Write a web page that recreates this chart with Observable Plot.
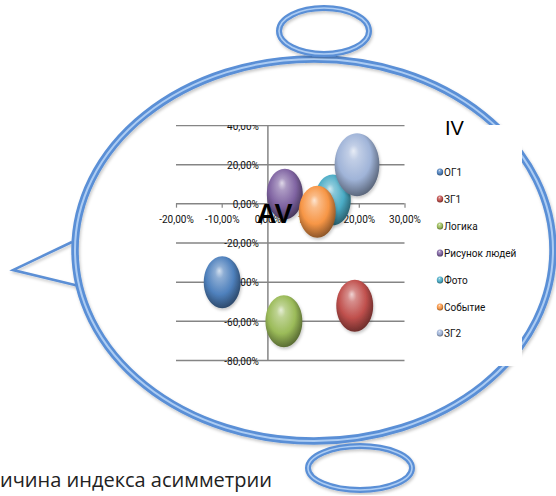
<!DOCTYPE html>
<html>
<head>
<meta charset="utf-8">
<script src="https://cdn.jsdelivr.net/npm/d3@7"></script>
<script src="https://cdn.jsdelivr.net/npm/@observablehq/plot@0.6"></script>
<style>
  html, body { margin: 0; padding: 0; background: #fff; }
  #wrap { position: relative; width: 556px; height: 496px; overflow: hidden; background: #fff; }
  #deco, #over { position: absolute; left: 0; top: 0; }
  #chart { position: absolute; left: 145px; top: 125px; }
  #over { pointer-events: none; }
</style>
</head>
<body>
<div id="wrap">
  <svg id="deco" width="556" height="496"></svg>
  <div id="chart"></div>
  <svg id="over" width="556" height="496"></svg>
</div>
<script>
// ---- data ----
const names = ["ОГ1", "ЗГ1", "Логика", "Рисунок людей", "Фото", "Событие", "ЗГ2"];
const xVals = [-0.10, 0.19, 0.035, 0.037, 0.142, 0.108, 0.195];
const yVals = [-0.40, -0.52, -0.60, 0.05, 0.02, -0.04, 0.20];
const sizes = [1, 1, 1, 0.95, 0.95, 1, 1.47];
const baseColors = ["#4f81bd", "#c0504d", "#9bbb59", "#8064a2", "#4bacc6", "#f79646", "#a0b4d8"];
const xTicks = [-0.2, -0.1, 0, 0.1, 0.2, 0.3];
const yTicks = [0.4, 0.2, 0, -0.2, -0.4, -0.6, -0.8];
const captionText = "ичина индекса асимметрии";

const data = names.map((n, i) => ({name: n, x: xVals[i], y: yVals[i], s: sizes[i]}));
const fmt = v => (v * 100).toFixed(2).replace(".", ",") + "%";

// ---- decorations (background) ----
const deco = d3.select("#deco");
const defs = deco.append("defs");
baseColors.forEach((c, i) => {
  const g = defs.append("radialGradient").attr("id", "g" + i)
    .attr("cx", "45%").attr("cy", "42%").attr("r", "60%").attr("fx", "42%").attr("fy", "28%");
  g.append("stop").attr("offset", "0%").attr("stop-color", d3.interpolateRgb(c, "#fff")(0.75));
  g.append("stop").attr("offset", "20%").attr("stop-color", d3.interpolateRgb(c, "#fff")(0.35));
  g.append("stop").attr("offset", "62%").attr("stop-color", c);
  g.append("stop").attr("offset", "100%").attr("stop-color", d3.interpolateRgb(c, "#000")(0.45));
});
const f = defs.append("filter").attr("id", "sh").attr("x", "-10%").attr("y", "-10%").attr("width", "120%").attr("height", "120%");
f.append("feDropShadow").attr("dx", 1).attr("dy", 2).attr("stdDeviation", 1.5).attr("flood-color", "#000").attr("flood-opacity", 0.22);

// tail
deco.append("path").attr("d", "M72,242 L13,270 L79,286").attr("fill", "none")
  .attr("stroke", "#5b8fd5").attr("stroke-width", 2.5).attr("filter", "url(#sh)");
// big ring and small ellipses
[[314, 250, 239, 191, 7.5, 2], [324, 31, 45, 23, 6, 1.6], [360, 468, 52, 22, 6, 1.6]].forEach(([cx, cy, rx, ry, w1, w2]) => {
  deco.append("ellipse").attr("cx", cx).attr("cy", cy).attr("rx", rx).attr("ry", ry)
    .attr("fill", "none").attr("stroke", "#5a8fd6").attr("stroke-width", w1).attr("filter", "url(#sh)");
  deco.append("ellipse").attr("cx", cx).attr("cy", cy).attr("rx", rx).attr("ry", ry)
    .attr("fill", "none").attr("stroke", "#acccf3").attr("stroke-width", w2);
});

// ---- chart ----
const ellipseSymbol = {
  draw(ctx, size) {
    const r = Math.sqrt(size / Math.PI), rx = r * 0.71, ry = r, k = 0.5523;
    ctx.moveTo(rx, 0);
    ctx.bezierCurveTo(rx, ry * k, rx * k, ry, 0, ry);
    ctx.bezierCurveTo(-rx * k, ry, -rx, ry * k, -rx, 0);
    ctx.bezierCurveTo(-rx, -ry * k, -rx * k, -ry, 0, -ry);
    ctx.bezierCurveTo(rx * k, -ry, rx, -ry * k, rx, 0);
    ctx.closePath();
  }
};

const chart = Plot.plot({
  width: 377, height: 241,
  marginLeft: 31, marginRight: 117.5, marginTop: 0, marginBottom: 6,
  style: {background: "white", fontFamily: "Roboto, sans-serif", fontSize: "10px", color: "#111"},
  x: {domain: [-0.2, 0.3], axis: null},
  y: {domain: [-0.8, 0.4], axis: null},
  r: {type: "sqrt", domain: [0, 1.47], range: [0, 31.5]},
  color: {domain: names, range: names.map((_, i) => `url(#g${i})`)},
  marks: [
    Plot.gridY(yTicks, {stroke: "#858585", strokeOpacity: 1, strokeWidth: 1.5}),
    Plot.ruleX([0], {stroke: "#858585", strokeWidth: 1.5}),
    Plot.ruleX(xTicks, {x: d => d, y1: 0, y2: -0.022, stroke: "#858585", strokeWidth: 1.2}),
    Plot.text(yTicks, {x: 0, y: d => d, text: fmt, textAnchor: "end", dx: -9, dy: 1, fill: "#111"}),
    Plot.text(xTicks, {x: d => d, y: 0, text: fmt, dy: 16, fill: "#111"}),
    Plot.dot(data, {x: "x", y: "y", r: "s", fill: "name", symbol: ellipseSymbol, sort: null})
  ]
});
d3.select(chart).selectAll("path").filter(function() {
  const f = this.getAttribute("fill") || (this.parentNode && this.parentNode.getAttribute("fill")) || "";
  return f.startsWith("url(");
}).attr("filter", "url(#sh)");
document.getElementById("chart").appendChild(chart);

// ---- overlay texts and legend ----
const over = d3.select("#over");
over.append("text").attr("x", 257).attr("y", 223).text("AV")
  .attr("font-family", "Liberation Sans, Arial, sans-serif").attr("font-weight", "bold").attr("font-size", 27).attr("fill", "#000");
over.append("text").attr("x", 445).attr("y", 135).text("IV")
  .attr("font-family", "Liberation Sans, Arial, sans-serif").attr("font-size", 20).attr("fill", "#000");
const legY = [172, 199, 226, 253, 280, 307, 333];
names.forEach((n, i) => {
  over.append("ellipse").attr("cx", 440).attr("cy", legY[i]).attr("rx", 3.2).attr("ry", 3.6).attr("fill", `url(#g${i})`);
  over.append("text").attr("x", 444).attr("y", legY[i]).attr("dy", "0.35em").text(n)
    .attr("font-family", "Roboto, sans-serif").attr("font-size", 10).attr("fill", "#111");
});
over.append("text").attr("x", 0).attr("y", 487).text(captionText)
  .attr("font-family", "Open Sans, sans-serif").attr("font-size", 20).attr("fill", "#222");
</script>
</body>
</html>
